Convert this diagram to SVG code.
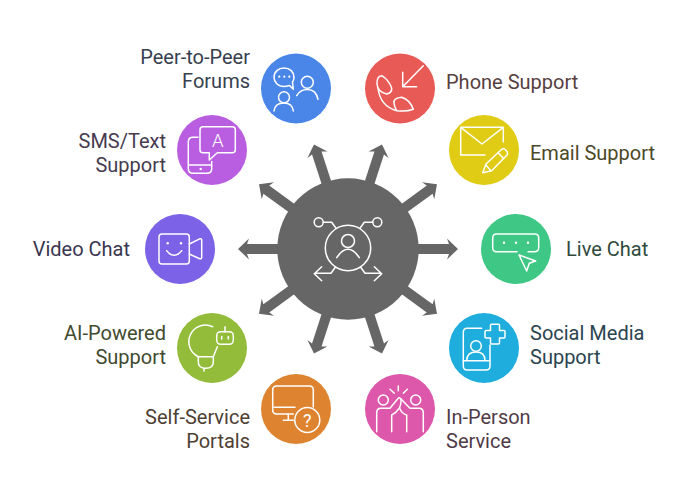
<svg xmlns="http://www.w3.org/2000/svg" width="684" height="477" viewBox="0 0 684 477">
<style>
.l{font-family:Roboto,"Liberation Sans",sans-serif;font-size:20px}
.e{text-anchor:end}
.i{fill:none;stroke:#fff;stroke-width:1.5;stroke-linecap:round;stroke-linejoin:round}
.d{fill:#fff}
.g{font-family:Roboto,"Liberation Sans",sans-serif;fill:#fff;text-anchor:middle}
</style>
<defs>
<path id="arrow" d="M60-5H101L99-10.500L110 0L99 10.500L101 5H60Z" fill="#666"/>
</defs>
<rect width="684" height="477" fill="#fff"/>
<g id="connectors" transform="translate(348 249)">
<use href="#arrow"/>
<use href="#arrow" transform="rotate(36)"/>
<use href="#arrow" transform="rotate(72)"/>
<use href="#arrow" transform="rotate(108)"/>
<use href="#arrow" transform="rotate(144)"/>
<use href="#arrow" transform="rotate(180)"/>
<use href="#arrow" transform="rotate(216)"/>
<use href="#arrow" transform="rotate(252)"/>
<use href="#arrow" transform="rotate(288)"/>
<use href="#arrow" transform="rotate(324)"/>
</g>
<g id="hub">
<circle cx="348" cy="249" r="70.700" fill="#666"/>
<g class="i">
<circle cx="348" cy="248" r="22.700"/>
<circle cx="348" cy="241" r="6.500"/>
<path d="M336.700 257.700Q348 241 359.300 257.700"/>
<circle cx="318.700" cy="222.300" r="4.500"/>
<circle cx="377.300" cy="222.300" r="4.500"/>
<path d="M323.300 222.300H331.700L336 228.300M372.700 222.300H364.300L360 228.300"/>
<path d="M335.300 267.300L331 273.300H315M321.700 266.700L314.300 273.700L321.700 280.700"/>
<path d="M360.700 267.300L365 273.300H381M374.300 266.700L381.700 273.700L374.300 280.700"/>
</g>
</g>
<g id="phone">
<circle cx="400" cy="88.500" r="35" fill="#e85a55"/>
<g class="i">
<path d="M423.300 65.700L402.700 86.700M402.700 72.300V86.700H416.700"/>
<path d="M381.700 75.700Q376.700 76 377 84Q377.500 92 386.700 94Q392 93 391.700 88.300Q389 80 381.700 75.700Z"/>
<path d="M378 88Q380 106 396.700 110.700Q406 112 413.300 109.300Q410 100 401.700 97.300Q393 98 394 103.300Q394.500 107 396.700 110.700"/>
</g>
<text class="l" x="446" y="89" fill="#574040">Phone Support</text>
</g>
<g id="email">
<circle cx="484" cy="150" r="35" fill="#e0cb15"/>
<g class="i">
<path d="M503.300 142V127.300H460.700V155H485"/>
<path d="M462 128.300L482 144L502 128.300"/>
<path d="M482.700 172.700L486 164L501.700 149.300Q503.500 148 505 149.300L507.300 152Q508 154 507 155L491.700 170.700Z"/>
<path d="M498.300 153L503.300 158.300M486 165L490.700 170.700"/>
</g>
<text class="l" x="530" y="160" fill="#4b4828">Email Support</text>
</g>
<g id="live-chat">
<circle cx="516" cy="249" r="35" fill="#3ec785"/>
<g class="i">
<path d="M517 251.700H496.700Q492.700 251.700 492.700 247.700V238Q492.700 234 496.700 234H534.700Q538.700 234 538.700 238V247.700Q538.700 251.700 534 251.700H528"/>
<path d="M519 255L535.700 261L529.300 263.300L526.700 271Z"/>
</g>
<g class="d">
<circle cx="504" cy="242.700" r="1.200"/>
<circle cx="516" cy="242.700" r="1.200"/>
<circle cx="528" cy="242.700" r="1.200"/>
</g>
<text class="l" x="566" y="256" fill="#2f4a3d">Live Chat</text>
</g>
<g id="social-media">
<circle cx="484" cy="348" r="35" fill="#1eaddc"/>
<g class="i">
<path d="M481.700 328.300H467.300Q463.300 328.300 463.300 332.300V366Q463.300 370 467.300 370H486Q490 370 490 366V345"/>
<path d="M491.500 324.300H498.500Q499.500 324.300 499.500 325.300V330.500H504Q505 330.500 505 331.500V337Q505 338 504 338H499.500V343Q499.500 344 498.500 344H491.500Q490.500 344 490.500 343V338H486Q485 338 485 337V331.500Q485 330.500 486 330.500H490.500V325.300Q490.500 324.300 491.500 324.300Z"/>
<circle cx="476" cy="346" r="5.300"/>
<path d="M466.700 360.700Q467 352 476 352Q485 352 485 360.700M463.300 360.700H490"/>
</g>
<text class="l" x="530" y="340" fill="#2a4450">Social Media</text>
<text class="l" x="530" y="364" fill="#2a4450">Support</text>
</g>
<g id="in-person">
<circle cx="400" cy="409" r="35" fill="#dd58aa"/>
<g class="i">
<circle cx="383.300" cy="400" r="5"/>
<circle cx="415.700" cy="400" r="5"/>
<path d="M398.300 386V390.700M390 389.300L394.300 393.300M407.300 389.300L403.300 393.300"/>
<path d="M376.700 431.700V413Q376.700 408.300 381 408.300H390L398 398.500Q399 397 400.500 398.500Q402 401 399.500 408Q396 413 391.700 415V431.700"/>
<path d="M423.300 431.700V413Q423.300 408.300 419 408.300H410L400.500 398.500M406.700 431.700V415Q402 414 399.500 408"/>
</g>
<text class="l" x="446" y="424" fill="#503a47">In-Person</text>
<text class="l" x="446" y="448" fill="#503a47">Service</text>
</g>
<g id="self-service">
<circle cx="296" cy="409" r="35" fill="#de832f"/>
<g class="i">
<path d="M293.300 414H276.700Q272.700 414 272.700 410V390Q272.700 386 276.700 386H309.300Q313.300 386 313.300 390V407"/>
<path d="M274 407.300H295M288.300 414V420.300M283.300 420.300H293.300"/>
<circle cx="307.300" cy="420" r="12.500"/>
</g>
<text class="g" x="307.300" y="426.500" font-size="18">?</text>
<text class="l e" x="250" y="424" fill="#4e4033">Self-Service</text>
<text class="l e" x="250" y="448" fill="#4e4033">Portals</text>
</g>
<g id="ai-powered">
<circle cx="212" cy="348" r="35" fill="#92bc39"/>
<g class="i">
<path d="M212.700 326.700A13.300 13.300 0 0 0 198.300 356.700H213.300L217.300 346.700"/>
<path d="M198.300 356.700V362Q198.300 368.300 205.800 368.300Q213.300 368.300 213.300 362V356.700M204 368.300V371"/>
<rect x="216.700" y="331.700" width="16.600" height="12.600" rx="4"/>
<path d="M225 326.700V331.700M221.700 336.500V339M228.300 336.500V339"/>
</g>
<text class="l e" x="166" y="340" fill="#414a2f">AI-Powered</text>
<text class="l e" x="166" y="364" fill="#414a2f">Support</text>
</g>
<g id="video-chat">
<circle cx="180" cy="249" r="35" fill="#7b62e6"/>
<g class="i">
<rect x="159" y="234" width="30.300" height="30" rx="3"/>
<path d="M166.700 250.700Q174 260 181.700 250.700"/>
<path d="M189.300 244L199.700 238.800Q201.700 238.300 201.700 240V257.500Q201.700 259.300 199.700 258.700L189.300 254"/>
</g>
<g class="d">
<circle cx="167.700" cy="243.300" r="1.200"/>
<circle cx="181" cy="243.300" r="1.200"/>
</g>
<text class="l e" x="130" y="256" fill="#3a3650">Video Chat</text>
</g>
<g id="sms-text">
<circle cx="212" cy="150" r="35" fill="#b95ee0"/>
<g class="i">
<path d="M209.300 152.700H203Q200 152.700 200 149.700V129.700Q200 126.700 203 126.700H232.300Q235.300 126.700 235.300 129.700V149.700Q235.300 152.700 232.300 152.700H217.300L209.300 160Z"/>
<path d="M198 137.300H193Q188.300 137.300 188.300 142V168.500Q188.300 173.300 193 173.300H207Q211.700 173.300 211.700 168.500V161.500M188.300 165H211.700"/>
</g>
<circle class="d" cx="200.700" cy="169" r="1.200"/>
<text class="g" x="217.700" y="146.700" font-size="18.500" font-weight="300">A</text>
<text class="l e" x="166" y="148" fill="#463a4f">SMS/Text</text>
<text class="l e" x="166" y="172" fill="#463a4f">Support</text>
</g>
<g id="peer-forums">
<circle cx="296" cy="88.500" r="35" fill="#4a86e8"/>
<g class="i">
<path d="M293.300 89.300L289.500 85.500Q286.500 86.500 284 86.500C278 86.500 274 82 274 77.300C274 72 278.500 68 284 68C290 68 294 72 294 77.300Q294 80 292.500 82Z"/>
<circle cx="307.300" cy="82.300" r="6"/>
<path d="M296.700 95.700Q300 89.500 307.300 89.500Q316 89.500 318 99.300"/>
<circle cx="284" cy="97.300" r="5.500"/>
<path d="M274 111Q275 103 283.700 103Q292.500 103 293.300 111"/>
</g>
<g class="d">
<circle cx="279.300" cy="76.700" r="1.100"/>
<circle cx="284.300" cy="76.700" r="1.100"/>
<circle cx="289.300" cy="76.700" r="1.100"/>
</g>
<text class="l e" x="250" y="64" fill="#37404f">Peer-to-Peer</text>
<text class="l e" x="250" y="88" fill="#37404f">Forums</text>
</g>
</svg>
